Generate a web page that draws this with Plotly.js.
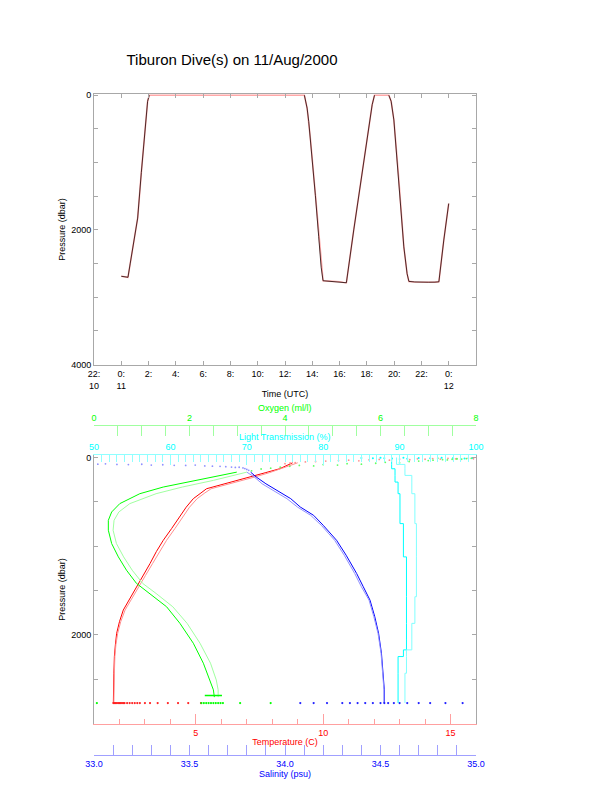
<!DOCTYPE html>
<html><head><meta charset="utf-8">
<script src="https://cdn.plot.ly/plotly-3.0.1.min.js"></script>
<style>html,body{margin:0;padding:0;background:#fff}</style>
</head><body><div id="chart" style="width:612px;height:785px"></div>
<script>
// ---------- top panel: vehicle pressure vs time (hours from 00:00 11 Aug) ----------
const timeHours = [0.00, 0.25, 0.49, 0.66, 0.90, 1.20, 1.47, 1.76, 1.93, 2.05, 13.42, 13.62, 13.74, 13.86, 14.05, 14.23, 14.47, 14.65, 14.79, 15.20, 15.60, 16.00, 16.30, 16.50, 17.04, 17.53, 18.02, 18.39, 18.56, 19.61, 19.78, 19.98, 20.34, 20.71, 20.95, 21.08, 21.50, 22.00, 22.50, 23.00, 23.28, 23.64, 24.00];
const pressureDbar = [2688, 2692, 2703, 2492, 2186, 1824, 1146, 392, 90, 0, 0, 191, 392, 643, 1070, 1492, 2100, 2553, 2754, 2760, 2762, 2770, 2780, 2784, 2000, 1347, 643, 141, 0, 0, 90, 367, 1246, 2251, 2650, 2764, 2772, 2778, 2776, 2775, 2770, 2150, 1608];
const timeTickVals = [-2, 0, 2, 4, 6, 8, 10, 12, 14, 16, 18, 20, 22, 24];
const timeTickText = ['22:<br>10', '0:<br>11', '2:', '4:', '6:', '8:', '10:', '12:', '14:', '16:', '18:', '20:', '22:', '0:<br>12'];

// ---------- bottom panel: profiles ----------
const tempPressureA = [60, 100, 127, 170, 221, 290, 352, 400, 464, 560, 670, 800, 933, 1060, 1195, 1330, 1457, 1590, 1719, 1850, 1981, 2110, 2243, 2430, 2618, 2767];
const temperatureA = [8.8, 8.45, 8.29, 7.75, 7.12, 6.2, 5.42, 5.2, 4.9, 4.62, 4.37, 4.05, 3.72, 3.45, 3.2, 2.93, 2.67, 2.4, 2.15, 2.0, 1.89, 1.84, 1.8, 1.78, 1.76, 1.76];
const temperatureB = [9.0, 8.6, 8.4, 7.9, 7.3, 6.4, 5.6, 5.35, 5.05, 4.75, 4.5, 4.18, 3.85, 3.57, 3.3, 3.02, 2.75, 2.47, 2.22, 2.05, 1.93, 1.86, 1.82, 1.8, 1.78, 1.78];
const tempSurfPressure = [70, 62, 58, 50, 45, 40, 35, 30, 38, 26, 22, 30, 18, 25, 15, 20, 12, 18, 10, 15, 22, 8, 14];
const tempSurfValue = [8.5, 8.7, 8.9, 9.3, 9.7, 10.1, 10.6, 11.0, 11.4, 11.8, 12.2, 12.6, 13.0, 13.4, 13.7, 14.0, 14.3, 14.6, 14.9, 15.2, 15.4, 15.7, 15.9];
const tempBottomValue = [1.76, 1.8, 1.85, 1.9, 1.95, 2.0, 2.05, 2.1, 2.15, 2.2, 2.3, 2.4, 2.5, 2.6, 2.7, 2.8, 3.0, 3.2, 3.5, 3.9, 4.3, 4.7, 5.2];

const salPressureA = [165, 221, 296, 390, 464, 558, 652, 764, 933, 1101, 1307, 1457, 1607, 1794, 1981, 2206, 2430, 2618, 2767];
const salinityA = [33.82, 33.85, 33.90, 33.97, 34.03, 34.08, 34.15, 34.20, 34.27, 34.32, 34.375, 34.41, 34.445, 34.47, 34.49, 34.505, 34.515, 34.52, 34.52];
const salinityB = [33.80, 33.84, 33.88, 33.95, 34.01, 34.065, 34.135, 34.19, 34.26, 34.31, 34.365, 34.40, 34.44, 34.465, 34.487, 34.503, 34.513, 34.518, 34.518];
const salSurfPressure = [75, 72, 78, 80, 76, 85, 82, 88, 90, 86, 95, 98, 100, 104, 108, 112, 110, 118, 125, 135, 145];
const salSurfValue = [33.02, 33.06, 33.12, 33.18, 33.25, 33.30, 33.36, 33.42, 33.48, 33.53, 33.58, 33.62, 33.66, 33.69, 33.72, 33.74, 33.76, 33.78, 33.79, 33.80, 33.81];
const salBottomValue = [34.08, 34.15, 34.22, 34.3, 34.34, 34.38, 34.42, 34.46, 34.5, 34.52, 34.54, 34.57, 34.6, 34.64, 34.7, 34.76, 34.84, 34.93];

const oxyPressureA = [165, 258, 333, 408, 520, 614, 708, 820, 970, 1120, 1270, 1419, 1532, 1682, 1869, 2093, 2318, 2506, 2618, 2700];
const oxygenA = [2.99, 2.15, 1.45, 0.96, 0.54, 0.37, 0.30, 0.30, 0.37, 0.51, 0.68, 0.89, 1.17, 1.52, 1.80, 2.08, 2.29, 2.43, 2.50, 2.52];
const oxygenB = [3.2, 2.5, 1.85, 1.3, 0.75, 0.52, 0.42, 0.4, 0.47, 0.62, 0.8, 1.02, 1.3, 1.65, 1.95, 2.22, 2.44, 2.56, 2.6, 2.6];
const oxySurfPressure = [150, 130, 120, 110, 100, 90, 95, 80, 85, 70, 75, 65, 55, 60, 45, 40, 35, 30, 25, 28, 20, 15, 18, 12, 10, 14, 8];
const oxySurfValue = [3.3, 3.5, 3.7, 3.9, 4.1, 4.3, 4.6, 4.8, 5.1, 5.3, 5.6, 5.9, 6.1, 6.4, 6.6, 6.8, 7.0, 7.1, 7.3, 7.4, 7.5, 7.6, 7.7, 7.8, 7.9, 7.6, 7.2];
const oxyBottomValue = [0.06, 2.25, 2.3, 2.35, 2.4, 2.45, 2.5, 2.55, 2.6, 2.65, 2.7, 3.06, 3.7];
const oxyBarValue = [2.32, 2.4, 2.5, 2.6, 2.68];

const lightPressure = [0, 78, 127, 202, 277, 408, 745, 1120, 1569, 1869, 2056, 2168, 2243, 2431, 2767];
const lightA = [88.96, 88.96, 89.4, 89.4, 89.8, 90.05, 90.5, 90.9, 90.9, 90.9, 90.9, 90.5, 89.8, 89.8, 89.8];
const lightB = [89.6, 90.7, 90.7, 91.6, 91.6, 92.0, 92.2, 92.2, 92.0, 91.6, 91.6, 90.9, 90.9, 90.7, 90.7];
const lightSurfPressure = [5, 10, 3, 8, 12, 4, 15, 6, 9, 2, 7, 11, 5];
const lightSurfValue = [85, 86.5, 87.5, 88, 89, 90.5, 91, 92.5, 94, 95.5, 97, 98.5, 99.5];

const bottomDepth = 2767;
const oxyBarDepth = 2682;

// ---------- build ----------
const frameGrey = '#a8a8a8';
const fontFam = '"Liberation Sans", Arial, Helvetica, sans-serif';
const W = 612, H = 785;
const xDom = [94 / W, 476 / W];
const topDom = [(H - 365) / H, (H - 94) / H];
const botDom = [(H - 724) / H, (H - 455) / H];

const darkX = [], darkY = [];
for (let i = 0; i < timeHours.length; i++) {
  if (i > 0 && pressureDbar[i] === 0 && pressureDbar[i - 1] === 0) { darkX.push(null); darkY.push(null); }
  darkX.push(timeHours[i]); darkY.push(pressureDbar[i]);
}
const fill = (arr, v) => arr.map(() => v);

const traces = [
  {x: timeHours, y: pressureDbar, xaxis: 'x', yaxis: 'y', mode: 'lines', line: {color: '#ffa8a8', width: 1.6}, hoverinfo: 'skip'},
  {x: darkX, y: darkY, xaxis: 'x', yaxis: 'y', mode: 'lines', connectgaps: false, line: {color: '#1a0606', width: 0.8}, hoverinfo: 'skip'},

  {x: lightA, y: lightPressure, xaxis: 'x4', yaxis: 'y2', mode: 'lines', line: {color: '#00ffff', width: 1, shape: 'vh'}},
  {x: lightB, y: lightPressure, xaxis: 'x4', yaxis: 'y2', mode: 'lines', line: {color: '#80ffff', width: 1, shape: 'vh'}},
  {x: lightSurfValue, y: lightSurfPressure, xaxis: 'x4', yaxis: 'y2', mode: 'markers', marker: {color: '#00ffff', size: 2}},

  {x: oxygenA, y: oxyPressureA, xaxis: 'x5', yaxis: 'y2', mode: 'lines', line: {color: '#00ff00', width: 1}},
  {x: oxygenB, y: oxyPressureA, xaxis: 'x5', yaxis: 'y2', mode: 'lines', line: {color: '#a0ffa0', width: 1}},
  {x: oxySurfValue, y: oxySurfPressure, xaxis: 'x5', yaxis: 'y2', mode: 'markers', marker: {color: '#60ff60', size: 1.8}},
  {x: oxyBottomValue, y: fill(oxyBottomValue, bottomDepth), xaxis: 'x5', yaxis: 'y2', mode: 'markers', marker: {color: '#00ff00', size: 2.2}},
  {x: oxyBarValue, y: fill(oxyBarValue, oxyBarDepth), xaxis: 'x5', yaxis: 'y2', mode: 'lines', line: {color: '#00ff00', width: 1.5}},

  {x: salinityA, y: salPressureA, xaxis: 'x3', yaxis: 'y2', mode: 'lines', line: {color: '#0000ff', width: 1}},
  {x: salinityB, y: salPressureA, xaxis: 'x3', yaxis: 'y2', mode: 'lines', line: {color: '#9090ff', width: 1}},
  {x: salSurfValue, y: salSurfPressure, xaxis: 'x3', yaxis: 'y2', mode: 'markers', marker: {color: '#9090ff', size: 1.8}},
  {x: salBottomValue, y: fill(salBottomValue, bottomDepth), xaxis: 'x3', yaxis: 'y2', mode: 'markers', marker: {color: '#2020ff', size: 2.2}},

  {x: temperatureA, y: tempPressureA, xaxis: 'x2', yaxis: 'y2', mode: 'lines', line: {color: '#ff0000', width: 1}},
  {x: temperatureB, y: tempPressureA, xaxis: 'x2', yaxis: 'y2', mode: 'lines', line: {color: '#ff9090', width: 1}},
  {x: tempSurfValue, y: tempSurfPressure, xaxis: 'x2', yaxis: 'y2', mode: 'markers', marker: {color: '#ff9090', size: 1.8}},
  {x: tempBottomValue, y: fill(tempBottomValue, bottomDepth), xaxis: 'x2', yaxis: 'y2', mode: 'markers', marker: {color: '#ff2020', size: 2.2}}
];

function colAxis(color, lineColor, extra) {
  return Object.assign({
    domain: xDom, showline: true, linecolor: lineColor, linewidth: 1,
    ticks: 'inside', ticklen: 10, tickcolor: lineColor, tickwidth: 1,
    tickfont: {color: color, size: 9}, showgrid: false, zeroline: false
  }, extra);
}

const layout = {
  width: W, height: H, autosize: false,
  margin: {l: 0, r: 0, t: 0, b: 0},
  paper_bgcolor: '#ffffff', plot_bgcolor: '#ffffff', showlegend: false,
  font: {family: fontFam, size: 9, color: '#000'},
  title: {text: 'Tiburon Dive(s) on 11/Aug/2000', x: 232 / W, xref: 'paper', xanchor: 'center',
          y: (H - 60) / H, yref: 'paper', yanchor: 'middle', font: {size: 15, color: '#000'}},
  xaxis: {domain: xDom, anchor: 'y', range: [-2, 26], tickmode: 'array', tickvals: timeTickVals, ticktext: timeTickText,
          ticks: 'inside', ticklen: 4, tickcolor: frameGrey, showline: true, linecolor: frameGrey, mirror: 'ticks',
          showgrid: false, zeroline: false, tickfont: {size: 9},
          title: {text: 'Time (UTC)', standoff: 1, font: {size: 9}}},
  yaxis: {domain: topDom, anchor: 'x', range: [4005, -18], tickmode: 'linear', tick0: 0, dtick: 2000,
          ticks: 'inside', ticklen: 4, tickcolor: frameGrey, showline: true, linecolor: frameGrey, mirror: 'ticks',
          minor: {tick0: 0, dtick: 500, ticks: 'inside', ticklen: 4, tickcolor: frameGrey},
          showgrid: false, zeroline: false, tickfont: {size: 9},
          title: {text: 'Pressure (dbar)', standoff: 4, font: {size: 9}}},
  xaxis2: colAxis('#ff0000', '#ffa0a0', {anchor: 'y2', side: 'bottom', range: [1, 16], tickmode: 'linear', tick0: 0, dtick: 5,
          minor: {tick0: 0, dtick: 1, ticks: 'inside', ticklen: 5, tickcolor: '#ffa0a0'},
          title: {text: 'Temperature (C)', standoff: 1, font: {color: '#ff0000', size: 9}}}),
  xaxis3: colAxis('#0000ff', '#a0a0ff', {overlaying: 'x2', anchor: 'free', position: (H - 755) / H, side: 'bottom',
          range: [33, 35], tickmode: 'linear', tick0: 33, dtick: 0.5, tickformat: '.1f',
          minor: {tick0: 33, dtick: 0.1, ticks: 'inside', ticklen: 10, tickcolor: '#a0a0ff'},
          title: {text: 'Salinity (psu)', standoff: 0, font: {color: '#0000ff', size: 9}}}),
  xaxis4: colAxis('#00ffff', '#90ffff', {overlaying: 'x2', anchor: 'y2', side: 'top', range: [50, 100],
          tickmode: 'linear', tick0: 50, dtick: 10,
          minor: {tick0: 50, dtick: 1, ticks: 'inside', ticklen: 7, tickcolor: '#90ffff'}}),
  xaxis5: colAxis('#00ff00', '#a0ffa0', {overlaying: 'x2', anchor: 'free', position: (H - 425) / H, side: 'top',
          range: [0, 8], tickmode: 'linear', tick0: 0, dtick: 2,
          minor: {tick0: 0, dtick: 0.5, ticks: 'inside', ticklen: 10, tickcolor: '#a0ffa0'}}),
  yaxis2: {domain: botDom, anchor: 'x2', range: [3003, -28], tickmode: 'linear', tick0: 0, dtick: 2000,
          ticks: 'inside', ticklen: 4, tickcolor: frameGrey, showline: true, linecolor: frameGrey, mirror: 'ticks',
          minor: {tick0: 0, dtick: 500, ticks: 'inside', ticklen: 4, tickcolor: frameGrey},
          showgrid: false, zeroline: false, tickfont: {size: 9},
          title: {text: 'Pressure (dbar)', standoff: 4, font: {size: 9}}},
  annotations: [
    {text: 'Oxygen (ml/l)', xref: 'paper', yref: 'paper', x: 285 / W, y: (H - 407.5) / H, xanchor: 'center', yanchor: 'middle',
     showarrow: false, font: {color: '#00ff00', size: 9}},
    {text: 'Light Transmission (%)', xref: 'paper', yref: 'paper', x: 285 / W, y: (H - 436.5) / H, xanchor: 'center', yanchor: 'middle',
     showarrow: false, font: {color: '#00ffff', size: 9}}
  ]
};

Plotly.newPlot('chart', traces, layout, {staticPlot: true, displayModeBar: false});
</script>
</body></html>
